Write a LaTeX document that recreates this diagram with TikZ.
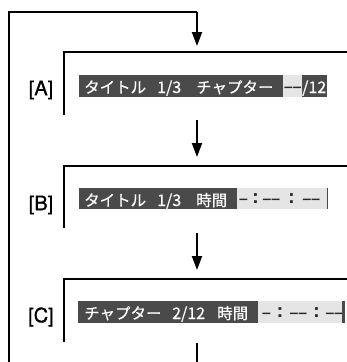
\documentclass[tikz,border=0pt]{standalone}
\usepackage{fontspec}
\setmainfont{TeX Gyre Heros}
\newfontfamily\jp[BoldFont={Noto Sans CJK JP}, BoldFeatures={FakeBold=0.5}]{Noto Sans CJK JP}
\newfontfamily\hb{TeX Gyre Heros Bold}
\newfontfamily\hl[BoldFont={TeX Gyre Heros}, BoldFeatures={FakeBold=0.9}]{TeX Gyre Heros}
\usetikzlibrary{arrows.meta}
\definecolor{barDark}{HTML}{4A4A4A}
\definecolor{barLight}{HTML}{E5E5E5}
\definecolor{dashInk}{HTML}{2A2A2A}
\tikzset{
  frameline/.style={line width=2pt, black},
  flowarrow/.style={line width=2pt, -{Triangle[width=10pt,length=14pt]}},
  darkbar/.style={fill=barDark, draw=none, inner sep=0pt, anchor=north west},
  lightbar/.style={fill=barLight, draw=none, inner sep=0pt, anchor=north west},
  wtxt/.style={text=white, inner sep=0pt, anchor=base west, font=\jp\bfseries\fontsize{15.5}{16}\selectfont},
  wnum/.style={text=white, inner sep=0pt, anchor=base west, font=\jp\bfseries\fontsize{16}{16}\selectfont},
  dashg/.style={text=dashInk, inner sep=0pt, anchor=base, font=\hb\fontsize{14}{16}\selectfont},
  colong/.style={text=dashInk, inner sep=0pt, anchor=base, font=\hb\fontsize{19}{20}\selectfont},
  lbl/.style={inner sep=0pt, anchor=center, font=\hl\bfseries\fontsize{20}{22}\selectfont},
}
\newcommand{\dd}{\textendash\kern1pt\textendash}
\begin{document}
\begin{tikzpicture}[x=1pt,y=-1pt]
\useasboundingbox (0,0) rectangle (347,362);
% coordinates
\coordinate (loopBL) at (9,362);
\coordinate (loopTL) at (9,12);
\coordinate (loopTR) at (197,12);
\coordinate (inA) at (197,46);
\coordinate (outA) at (197,120);
\coordinate (inB) at (197,157);
\coordinate (outB) at (197,233);
\coordinate (inC) at (197,270);
\coordinate (outC) at (197,343);
\coordinate (endC) at (197,362);
% frames
\coordinate (fAtr) at (347,52); \coordinate (fAtl) at (64,52); \coordinate (fAbl) at (64,115);
\coordinate (fBtr) at (347,166); \coordinate (fBtl) at (64,166); \coordinate (fBbl) at (64,228);
\coordinate (fCtr) at (347,279); \coordinate (fCtl) at (64,279); \coordinate (fCbl) at (64,342);
\draw[frameline] (fAtr) -- (fAtl) -- (fAbl);
\draw[frameline] (fBtr) -- (fBtl) -- (fBbl);
\draw[frameline] (fCtr) -- (fCtl) -- (fCbl);
% connectors
\draw[frameline] (loopBL) -- (loopTL) -- (loopTR);
\draw[flowarrow] (loopTR) -- (inA);
\draw[flowarrow] (outA) -- (inB);
\draw[flowarrow] (outB) -- (inC);
\draw[frameline] (outC) -- (endC);
% labels
\node[lbl] (labA) at (41,90) {[A]};
\node[lbl] (labB) at (41,205) {[B]};
\node[lbl] (labC) at (41,317) {[C]};
% bar A
\node[darkbar, minimum width=248pt, minimum height=22pt] (barA) at (79,75) {};
\node[lightbar, minimum width=19pt, minimum height=22pt] (barAl) at (283,75) {};
\node[wtxt] (tA1) at (84,93) {タイトル};
\node[wnum] (tA2) at (157,93) {1/3};
\node[wtxt] (tA3) at (196,93) {チャプター};
\node[dashg] (tA4) at (293,91) {\dd};
\node[wnum] (tA5) at (302,93) {/12};
% bar B
\node[darkbar, minimum width=158pt, minimum height=21pt] (barB) at (79,188) {};
\node[lightbar, minimum width=90pt, minimum height=21pt] (barBl) at (237,188) {};
\draw[barDark, line width=1.4pt] (barBl.north east) -- (barBl.south east);
\node[wtxt] (tB1) at (84,206) {タイトル};
\node[wnum] (tB2) at (157,206) {1/3};
\node[wtxt] (tB3) at (196,206) {時間};
\node[dashg] (tB4) at (243.5,203) {\textendash};
\node[colong] (tB5) at (255.5,203.4) {:};
\node[dashg] (tB6) at (271.5,203) {\dd};
\node[colong] (tB7) at (291.5,203.4) {:};
\node[dashg] (tB8) at (311.5,203) {\dd};
% bar C
\node[darkbar, minimum width=180pt, minimum height=22pt] (barC) at (78,301) {};
\node[lightbar, minimum width=85pt, minimum height=22pt] (barCl) at (258,301) {};
\node[wtxt] (tC1) at (84,319) {チャプター};
\node[wnum] (tC2) at (172,319) {2/12};
\node[wtxt] (tC3) at (217,319) {時間};
\node[dashg] (tC4) at (266.5,317) {\textendash};
\node[colong] (tC5) at (280,317.4) {:};
\node[dashg] (tC6) at (298.5,317) {\dd};
\node[colong] (tC7) at (316.5,317.4) {:};
\node[dashg] (tC8) at (334.5,317) {\dd};
\draw[barDark, line width=2.4pt] (barCl.north east) -- (barCl.south east);
\end{tikzpicture}
\end{document}
